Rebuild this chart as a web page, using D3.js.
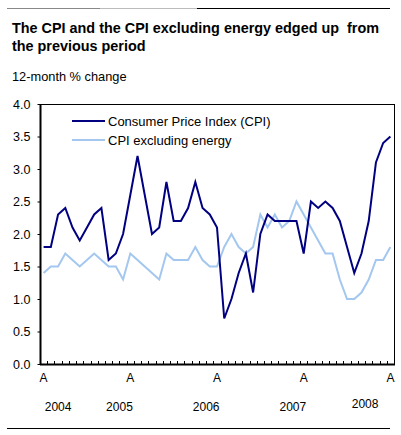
<!DOCTYPE html>
<html>
<head>
<meta charset="utf-8">
<script src="https://cdn.jsdelivr.net/npm/d3@7"></script>
<style>
  body { margin: 0; background: #fff; }
  svg { display: block; font-family: "Liberation Sans", Arial, sans-serif; }
</style>
</head>
<body>
<svg id="chart"></svg>
<script>
// monthly, August 2004 to August 2008
var months = [
  "2004-08","2004-09","2004-10","2004-11","2004-12",
  "2005-01","2005-02","2005-03","2005-04","2005-05","2005-06","2005-07","2005-08","2005-09","2005-10","2005-11","2005-12",
  "2006-01","2006-02","2006-03","2006-04","2006-05","2006-06","2006-07","2006-08","2006-09","2006-10","2006-11","2006-12",
  "2007-01","2007-02","2007-03","2007-04","2007-05","2007-06","2007-07","2007-08","2007-09","2007-10","2007-11","2007-12",
  "2008-01","2008-02","2008-03","2008-04","2008-05","2008-06","2008-07","2008-08"
];

var cpi = [
  1.8, 1.8, 2.3, 2.4, 2.1,
  1.9, 2.1, 2.3, 2.4, 1.6, 1.7, 2.0, 2.6, 3.2, 2.6, 2.0, 2.1,
  2.8, 2.2, 2.2, 2.4, 2.8, 2.4, 2.3, 2.1, 0.7, 1.0, 1.4, 1.7,
  1.1, 2.0, 2.3, 2.2, 2.2, 2.2, 2.2, 1.7, 2.5, 2.4, 2.5, 2.4,
  2.2, 1.8, 1.4, 1.7, 2.2, 3.1, 3.4, 3.5
];

var cpiExEnergy = [
  1.4, 1.5, 1.5, 1.7, 1.6,
  1.5, 1.6, 1.7, 1.6, 1.5, 1.5, 1.3, 1.7, 1.6, 1.5, 1.4, 1.3,
  1.7, 1.6, 1.6, 1.6, 1.8, 1.6, 1.5, 1.5, 1.8, 2.0, 1.8, 1.7,
  1.8, 2.3, 2.1, 2.3, 2.1, 2.2, 2.5, 2.3, 2.1, 1.9, 1.7, 1.7,
  1.3, 1.0, 1.0, 1.1, 1.3, 1.6, 1.6, 1.8
];

var seriesNames = ["Consumer Price Index (CPI)", "CPI excluding energy"];
var seriesColors = ["#000080", "#a3c7ef"];
var yTicks = [0, 0.5, 1, 1.5, 2, 2.5, 3, 3.5, 4];
var years = ["2004", "2005", "2006", "2007", "2008"];

var width = 401, height = 435;
var svg = d3.select("#chart").attr("width", width).attr("height", height);

var plotLeft = 40, plotRight = 394, plotTop = 104, plotBottom = 364;

var x = d3.scaleBand().domain(months).range([plotLeft, plotRight]);
var y = d3.scaleLinear().domain([0, 4]).range([plotBottom, plotTop]);

// rules at top and bottom of the figure
svg.append("line").attr("x1", 7).attr("x2", 100).attr("y1", 8.5).attr("y2", 8.5)
  .attr("stroke", "#888").attr("stroke-width", 1);
svg.append("line").attr("x1", 100).attr("x2", 197).attr("y1", 8.5).attr("y2", 8.5)
  .attr("stroke", "#bbb").attr("stroke-width", 1);
svg.append("line").attr("x1", 197).attr("x2", 390).attr("y1", 8.5).attr("y2", 8.5)
  .attr("stroke", "#000").attr("stroke-width", 1);
svg.append("line").attr("x1", 7).attr("x2", 390).attr("y1", 428.5).attr("y2", 428.5)
  .attr("stroke", "#000").attr("stroke-width", 1);

// title
svg.append("text").attr("x", 12).attr("y", 33)
  .style("font-size", "14.4px").style("font-weight", "bold")
  .text("The CPI and the CPI excluding energy edged up\u00a0 from");
svg.append("text").attr("x", 12).attr("y", 51)
  .style("font-size", "14.4px").style("font-weight", "bold")
  .text("the previous period");
svg.append("text").attr("x", 12).attr("y", 81)
  .style("font-size", "12.8px")
  .text("12-month % change");

// y axis
var yAxis = d3.axisLeft(y).tickValues(yTicks).tickSize(3).tickPadding(7)
  .tickFormat(d3.format(".1f"));
var gy = svg.append("g").attr("transform", "translate(" + (plotLeft + 0.5) + ",0)").call(yAxis);
gy.select(".domain").remove();
gy.selectAll("line").attr("stroke", "#000");
gy.selectAll("text").style("font-size", "12.5px").style("font-family", "Liberation Sans, Arial, sans-serif");

// frame
svg.append("rect").attr("x", plotLeft + 0.5).attr("y", plotTop + 0.5)
  .attr("width", plotRight - plotLeft).attr("height", plotBottom - plotTop)
  .attr("fill", "none").attr("stroke", "#000").attr("stroke-width", 1);
svg.append("line").attr("x1", plotLeft + 0.5).attr("x2", plotLeft + 0.5).attr("y1", plotTop).attr("y2", plotBottom + 1)
  .attr("stroke", "#000").attr("stroke-width", 2);
svg.append("line").attr("x1", plotLeft).attr("x2", plotRight + 1).attr("y1", plotBottom + 0.5).attr("y2", plotBottom + 0.5)
  .attr("stroke", "#000").attr("stroke-width", 2);

// minor x ticks at month boundaries, pointing into the plot
svg.append("g").selectAll("line")
  .data(months.slice(1))
  .enter().append("line")
  .attr("x1", function(d) { return Math.round(x(d)) + 0.5; })
  .attr("x2", function(d) { return Math.round(x(d)) + 0.5; })
  .attr("y1", plotBottom)
  .attr("y2", plotBottom - 3)
  .attr("stroke", "#000");

// "A" labels under August
svg.append("g").selectAll("text")
  .data(months.filter(function(m) { return m.slice(5) === "08"; }))
  .enter().append("text")
  .attr("x", function(d) { return x(d) + x.bandwidth() / 2; })
  .attr("y", 382)
  .attr("text-anchor", "middle")
  .style("font-size", "12px")
  .text("A");

// year labels, centred on the months of each year
svg.append("g").selectAll("text")
  .data(years)
  .enter().append("text")
  .attr("x", function(yr) {
    var ms = months.filter(function(m) { return m.slice(0, 4) === yr; });
    return (x(ms[0]) + x(ms[ms.length - 1]) + x.bandwidth()) / 2;
  })
  .attr("y", function(yr) { return yr === "2008" ? 408 : 411; })
  .attr("text-anchor", "middle")
  .style("font-size", "12px")
  .text(function(d) { return d; });

// lines
var line = d3.line()
  .x(function(d, i) { return x(months[i]) + x.bandwidth() / 2; })
  .y(function(d) { return y(d); });

svg.append("path").datum(cpiExEnergy)
  .attr("d", line).attr("fill", "none")
  .attr("stroke", seriesColors[1]).attr("stroke-width", 2);
svg.append("path").datum(cpi)
  .attr("d", line).attr("fill", "none")
  .attr("stroke", seriesColors[0]).attr("stroke-width", 2);

// legend
var legend = svg.append("g").selectAll("g")
  .data(seriesNames)
  .enter().append("g")
  .attr("transform", function(d, i) { return "translate(72," + (121 + i * 19) + ")"; });
legend.append("line").attr("x1", 0).attr("x2", 33).attr("y1", 0).attr("y2", 0)
  .attr("stroke", function(d, i) { return seriesColors[i]; }).attr("stroke-width", 2);
legend.append("text").attr("x", 36).attr("y", 4.5)
  .style("font-size", "13px")
  .text(function(d) { return d; });
</script>
</body>
</html>
